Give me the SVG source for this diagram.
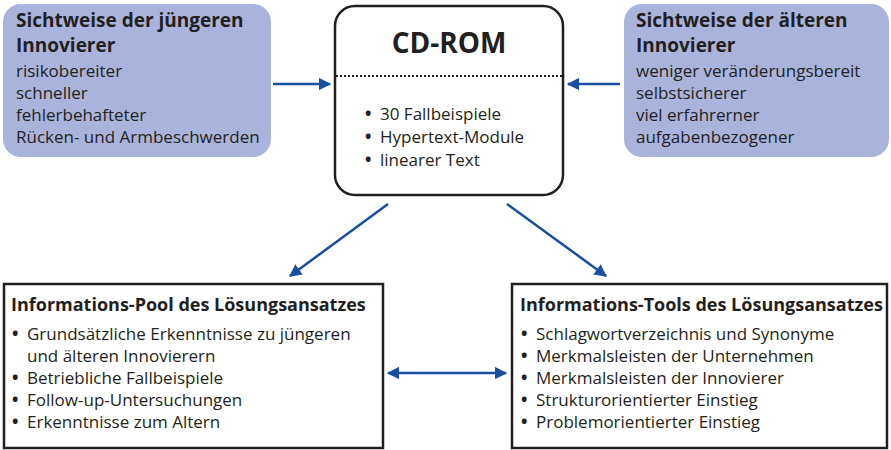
<svg xmlns="http://www.w3.org/2000/svg" width="891" height="450" viewBox="0 0 891 450">
<defs>
<style>
text{font-family:"Open Sans","Noto Sans","Liberation Sans",sans-serif;fill:#231f20}
.t{font-weight:bold;font-size:19px}
.t2{font-weight:bold;font-size:18px}
.b{font-size:17px}
.d{font-weight:bold}
.blue{fill:#aab3db}
.box{fill:#fff;stroke:#231f20;stroke-width:2.5}
.con{stroke:#1a4e9f;stroke-width:2.5;fill:none}
</style>
<marker id="ah" viewBox="0 0 10 10" refX="9" refY="5" markerWidth="5" markerHeight="5" orient="auto-start-reverse" markerUnits="strokeWidth">
<path d="M0,0 L10,5 L0,10 z" fill="#1a4e9f"/>
</marker>
</defs>
<rect width="891" height="450" fill="#fff"/>
<g id="jung">
<rect class="blue" x="3" y="4" width="268" height="153" rx="18"/>
<text class="t" x="16" y="27">Sichtweise der jüngeren</text>
<text class="t" x="16" y="52">Innovierer</text>
<text class="b" x="16" y="77">risikobereiter</text>
<text class="b" x="16" y="99">schneller</text>
<text class="b" x="16" y="121">fehlerbehafteter</text>
<text class="b" x="16" y="143">Rücken- und Armbeschwerden</text>
</g>
<g id="alt">
<rect class="blue" x="624" y="4" width="265" height="153" rx="18"/>
<text class="t" x="636" y="27">Sichtweise der älteren</text>
<text class="t" x="636" y="52">Innovierer</text>
<text class="b" x="636" y="77">weniger veränderungsbereit</text>
<text class="b" x="636" y="99">selbstsicherer</text>
<text class="b" x="636" y="121">viel erfahrerner</text>
<text class="b" x="636" y="143">aufgabenbezogener</text>
</g>
<g id="cdrom">
<rect class="box" x="335" y="6" width="228" height="189" rx="20"/>
<line x1="336" y1="76" x2="562" y2="76" stroke="#231f20" stroke-width="2" stroke-dasharray="2,2"/>
<text x="449" y="53" text-anchor="middle" font-weight="bold" font-size="28">CD-ROM</text>
<text class="b" y="120"><tspan class="d" x="365">•</tspan><tspan x="380">30 Fallbeispiele</tspan></text>
<text class="b" y="143"><tspan class="d" x="365">•</tspan><tspan x="380">Hypertext-Module</tspan></text>
<text class="b" y="166"><tspan class="d" x="365">•</tspan><tspan x="380">linearer Text</tspan></text>
</g>
<g id="pool">
<rect class="box" x="4" y="284" width="379" height="164"/>
<text class="t2" x="11" y="311">Informations-Pool des Lösungsansatzes</text>
<text class="b" y="340"><tspan class="d" x="12">•</tspan><tspan x="27">Grundsätzliche Erkenntnisse zu jüngeren</tspan></text>
<text class="b" x="27" y="362">und älteren Innovierern</text>
<text class="b" y="384"><tspan class="d" x="12">•</tspan><tspan x="27">Betriebliche Fallbeispiele</tspan></text>
<text class="b" y="406"><tspan class="d" x="12">•</tspan><tspan x="27">Follow-up-Untersuchungen</tspan></text>
<text class="b" y="428"><tspan class="d" x="12">•</tspan><tspan x="27">Erkenntnisse zum Altern</tspan></text>
</g>
<g id="tools">
<rect class="box" x="512" y="284" width="375" height="164"/>
<text class="t2" x="520" y="311">Informations-Tools des Lösungsansatzes</text>
<text class="b" y="340"><tspan class="d" x="521">•</tspan><tspan x="536">Schlagwortverzeichnis und Synonyme</tspan></text>
<text class="b" y="362"><tspan class="d" x="521">•</tspan><tspan x="536">Merkmalsleisten der Unternehmen</tspan></text>
<text class="b" y="384"><tspan class="d" x="521">•</tspan><tspan x="536">Merkmalsleisten der Innovierer</tspan></text>
<text class="b" y="406"><tspan class="d" x="521">•</tspan><tspan x="536">Strukturorientierter Einstieg</tspan></text>
<text class="b" y="428"><tspan class="d" x="521">•</tspan><tspan x="536">Problemorientierter Einstieg</tspan></text>
</g>
<g id="connectors">
<line class="con" x1="273" y1="84" x2="330" y2="84" marker-end="url(#ah)"/>
<line class="con" x1="620" y1="84" x2="568" y2="84" marker-end="url(#ah)"/>
<line class="con" x1="388" y1="204" x2="290" y2="276" marker-end="url(#ah)"/>
<line class="con" x1="507" y1="204" x2="606" y2="276" marker-end="url(#ah)"/>
<line class="con" x1="388" y1="373" x2="506" y2="373" marker-start="url(#ah)" marker-end="url(#ah)"/>
</g>
</svg>
